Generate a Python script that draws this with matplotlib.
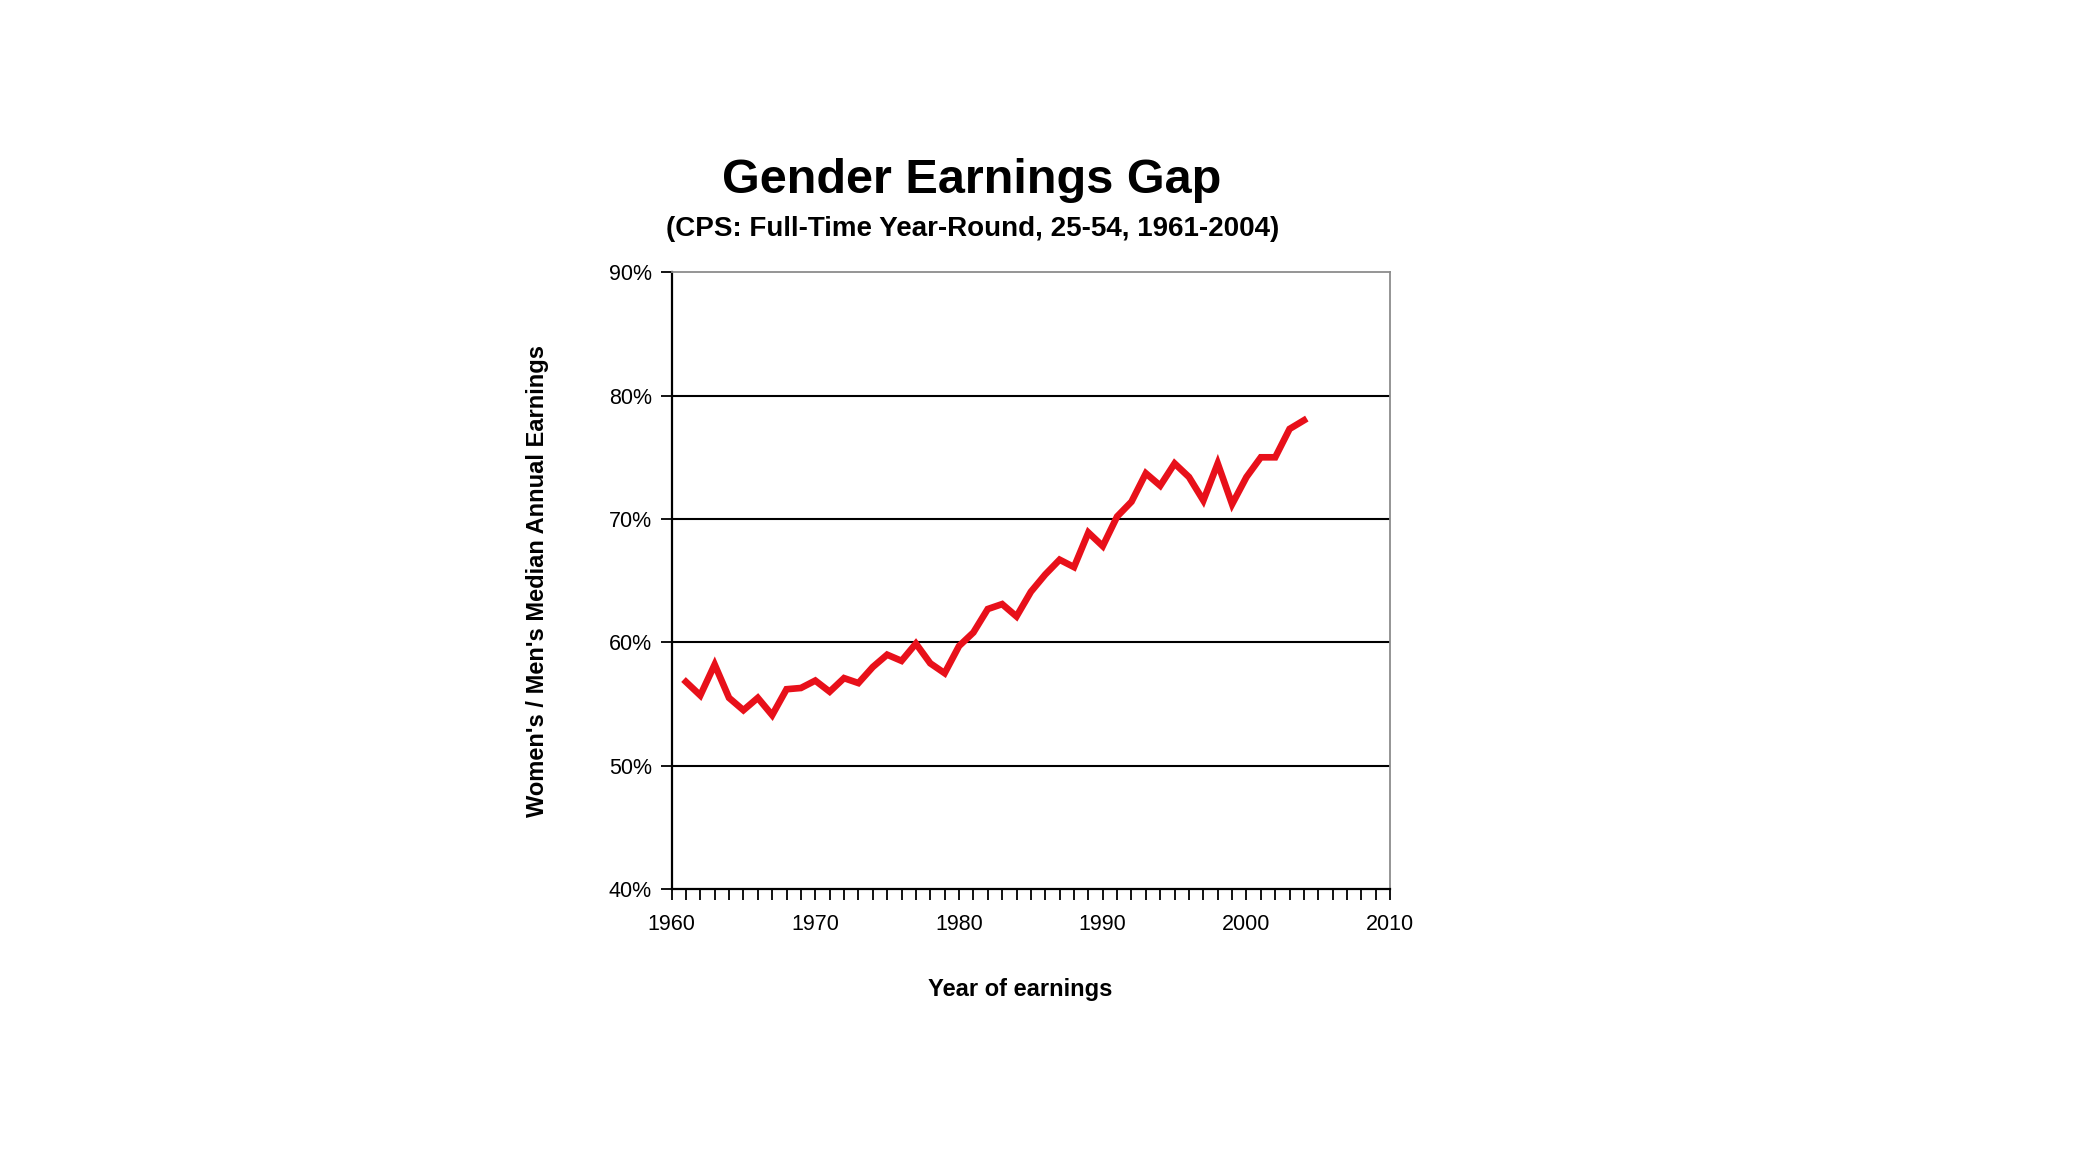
import matplotlib
matplotlib.use("Agg")
import matplotlib.pyplot as plt
from matplotlib.ticker import MultipleLocator, FuncFormatter

plt.rcParams['font.family'] = ['Liberation Sans', 'DejaVu Sans']

years = list(range(1961, 2005))
ratio = [56.8, 55.7, 58.2, 55.5, 54.5, 55.5, 54.1, 56.2, 56.3, 56.9,
         56.0, 57.1, 56.7, 58.0, 59.0, 58.5, 59.9, 58.3, 57.5, 59.7,
         60.8, 62.7, 63.1, 62.1, 64.1, 65.5, 66.7, 66.1, 68.9, 67.8,
         70.2, 71.4, 73.7, 72.7, 74.5, 73.4, 71.5, 74.5, 71.2, 73.4,
         75.0, 75.0, 77.3, 78.0]

title = "Gender Earnings Gap"
subtitle = "(CPS: Full-Time Year-Round, 25-54, 1961-2004)"
xlabel = "Year of earnings"
ylabel = "Women's / Men's Median Annual Earnings"

fig = plt.figure(figsize=(20.83, 11.72), dpi=100)
ax = fig.add_axes([0.3224, 0.2414, 0.3450, 0.5263])

ax.plot(years, ratio, color='#e8101a', linewidth=4.8, solid_joinstyle='miter', zorder=3)

ax.set_xlim(1960, 2010)
ax.set_ylim(40, 90)
ax.xaxis.set_major_locator(MultipleLocator(10))
ax.xaxis.set_minor_locator(MultipleLocator(1))
ax.yaxis.set_major_locator(MultipleLocator(10))
ax.yaxis.set_major_formatter(FuncFormatter(lambda v, p: f"{v:.0f}%"))

for gv in [50, 60, 70, 80]:
    ax.axhline(gv, color='black', linewidth=1.5, zorder=1)

ax.tick_params(axis='both', which='major', direction='out', length=8, width=1.3,
               labelsize=15.5, colors='black', pad=6)
ax.tick_params(axis='x', which='major', pad=10)
ax.tick_params(axis='x', which='minor', direction='out', length=8, width=1.3)
ax.tick_params(axis='y', which='minor', left=False)

for s in ['left', 'bottom']:
    ax.spines[s].set_color('black')
    ax.spines[s].set_linewidth(1.6)
for s in ['top', 'right']:
    ax.spines[s].set_color('#8c8c8c')
    ax.spines[s].set_linewidth(1.3)

fig.text(0.4667, 0.846, title, ha='center', va='center', fontsize=35, fontweight='bold')
fig.text(0.4667, 0.805, subtitle, ha='center', va='center', fontsize=20, fontweight='bold')
fig.text(0.490, 0.156, xlabel, ha='center', va='center', fontsize=17, fontweight='bold')
fig.text(0.258, 0.5046, ylabel, ha='center', va='center', fontsize=17, fontweight='bold', rotation=90)

fig.savefig('out.png', dpi=100, facecolor='white')
